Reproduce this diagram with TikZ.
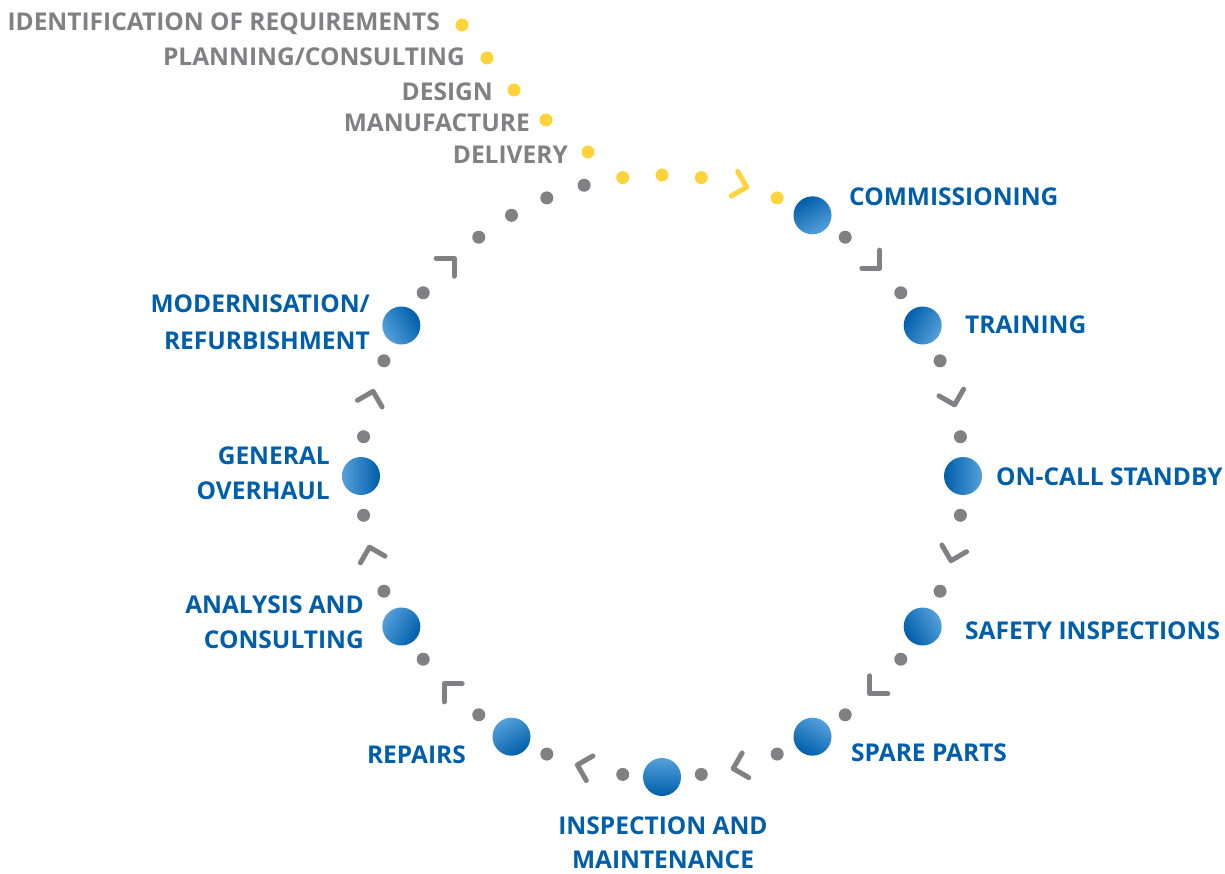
\documentclass[tikz,border=0pt]{standalone}
\usepackage{fontspec}
\setmainfont{Open Sans}
\definecolor{cycleblue}{RGB}{0,94,170}
\definecolor{balllight}{RGB}{85,160,218}
\definecolor{dotgrey}{RGB}{128,128,133}
\definecolor{dotyellow}{RGB}{254,212,58}
\begin{document}
\begin{tikzpicture}[x=1pt,y=-1pt,
  dot/.style={circle,fill=#1,inner sep=0pt,minimum size=13pt},
  ball/.style={circle,inner sep=0pt,minimum size=38pt,top color=cycleblue,bottom color=balllight,shading angle=#1},
  chev/.style={draw=#1,line width=5pt,line cap=round,line join=round},
  lbl/.style={text=cycleblue,inner sep=0pt,font=\fontsize{24.5}{34}\selectfont\bfseries},
  pre/.style={text=dotgrey,inner sep=0pt,anchor=base east,font=\fontsize{24.5}{30}\selectfont\bfseries}]
  \useasboundingbox (0,0) rectangle (1225,874);

  % the cycle
  \begin{scope}[shift={(662,476)}]
    \foreach \a in {52.5,37.5,...,-232.5,105,112.5,120}
      \node[dot=dotgrey] at (\a:301pt) {};
    \foreach \a in {67.5,82.5,90,97.5}
      \node[dot=dotyellow] at (\a:301pt) {};
    \foreach \a in {45,15,...,-225}
      \draw[chev=dotgrey] (\a:301pt) ++(\a-90:7pt) ++(\a+45:18pt) -- ++(\a+225:18pt) -- ++(\a+135:18pt);
    \draw[chev=dotyellow] (75:301pt) ++(-15:7pt) ++(120:18pt) -- ++(300:18pt) -- ++(210:18pt);
    \foreach \a [count=\i, evaluate=\a as \s using 90-\a] in {60,30,...,-210}
      \node[ball=\s] (b\i) at (\a:301pt) {};
  \end{scope}

  \node[lbl,anchor=base west] (commissioning) at (849,206) {COMMISSIONING};
  \node[lbl,anchor=base west] (training) at (965,333) {TRAINING};
  \node[lbl,anchor=base west] (standby) at (996,485) {ON-CALL STANDBY};
  \node[lbl,anchor=base west] (safety) at (965,639) {SAFETY INSPECTIONS};
  \node[lbl,anchor=base west] (spare) at (851,761) {SPARE PARTS};
  \node[lbl,anchor=north,align=center] (inspection) at (663,817) {INSPECTION AND\\MAINTENANCE};
  \node[lbl,anchor=base east] (repairs) at (466,763) {REPAIRS};
  \node[lbl,anchor=north east,align=right] (analysis) at (364,596) {ANALYSIS AND\\[1pt]CONSULTING};
  \node[lbl,anchor=north east,align=right] (overhaul) at (330,447) {GENERAL\\[1pt]OVERHAUL};
  \node[lbl,anchor=north east,align=right] (modern) at (370,295) {MODERNISATION/\\[3pt]REFURBISHMENT};

  % before the cycle
  \node[dot=dotyellow] (d1) at (462,25) {};
  \node[dot=dotyellow] (d2) at (487,58) {};
  \node[dot=dotyellow] (d3) at (514,90) {};
  \node[dot=dotyellow] (d4) at (546,120) {};
  \node[dot=dotyellow] (d5) at (588,152) {};
  \node[pre] (requirements) at (440,31) {IDENTIFICATION OF REQUIREMENTS};
  \node[pre] (planning) at (465,66) {PLANNING/CONSULTING};
  \node[pre] (design) at (493,101) {DESIGN};
  \node[pre] (manufacture) at (530,132) {MANUFACTURE};
  \node[pre] (delivery) at (568,164) {DELIVERY};
\end{tikzpicture}
\end{document}
